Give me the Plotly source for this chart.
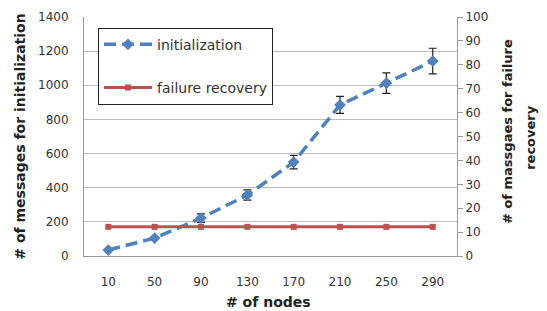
import plotly.graph_objects as go

nodes = ["10", "50", "90", "130", "170", "210", "250", "290"]
init_msgs = [35, 105, 222, 357, 550, 885, 1013, 1142]
init_err = [0, 0, 25, 30, 40, 50, 60, 75]
recovery_msgs = [12.2, 12.2, 12.2, 12.2, 12.2, 12.2, 12.2, 12.2]
left_ticks = [0, 200, 400, 600, 800, 1000, 1200, 1400]
right_ticks = [0, 10, 20, 30, 40, 50, 60, 70, 80, 90, 100]

blue = "#4F81BD"
red = "#C0504D"
font = "DejaVu Sans"

fig = go.Figure()
fig.add_trace(go.Scatter(
    x=nodes, y=init_msgs, name="initialization", mode="lines+markers",
    legendgroup="a",
    line=dict(color=blue, width=3.5, dash="12px,6px"),
    marker=dict(symbol="diamond", size=9, color=blue),
    error_y=dict(type="data", array=init_err, visible=True, color="#222", thickness=1.2, width=4),
))
fig.add_trace(go.Scatter(
    x=nodes, y=recovery_msgs, name="failure recovery", mode="lines+markers",
    legendgroup="b",
    line=dict(color=red, width=3),
    marker=dict(symbol="square", size=6, color=red),
    yaxis="y2",
))

title_font = dict(family=font, size=14, color="#222")

# page body has an 8px margin, so the figure is sized/shifted to compensate
fig.update_layout(
    width=539, height=303,
    margin=dict(l=76, r=90, t=9, b=55),
    paper_bgcolor="white", plot_bgcolor="white",
    font=dict(family=font, size=12, color="#333"),
    showlegend=True,
    legend=dict(x=0.0375, y=0.955, xanchor="left", yanchor="top",
                bordercolor="#222", borderwidth=1, bgcolor="white",
                font=dict(size=14, color="#333"), tracegroupgap=22,
                entrywidth=186, entrywidthmode="pixels", itemwidth=48),
    xaxis=dict(type="category", showgrid=False, showline=True, linecolor="#999",
               ticks="", tickfont=dict(size=12, color="#333"), automargin=False,
               ticklabelstandoff=15),
    yaxis=dict(range=[0, 1400], tickvals=left_ticks, showgrid=True, gridcolor="#bdbdbd",
               showline=True, linecolor="#999", ticks="", zeroline=False, automargin=False,
               ticklabelstandoff=12,
               tickfont=dict(size=12, color="#333"),
               title=dict(text="<b># of messages for initialization</b>", font=title_font, standoff=9)),
    yaxis2=dict(range=[0, 100], tickvals=right_ticks, overlaying="y", side="right",
                showgrid=False, showline=True, linecolor="#999", ticks="outside",
                ticklen=5, tickcolor="#999", zeroline=False, automargin=False,
                tickfont=dict(size=12, color="#333")),
    annotations=[
        dict(text="<b># of nodes</b>", xref="paper", yref="paper", x=0.495, y=-0.1925,
             xanchor="center", yanchor="middle", showarrow=False, font=title_font),
        dict(text="<b># of massgaes for failure</b>", xref="paper", yref="paper", x=1.134, y=0.523,
             xanchor="center", yanchor="middle", textangle=-90, showarrow=False,
             font=dict(family=font, size=13, color="#222")),
        dict(text="<b>recovery</b>", xref="paper", yref="paper", x=1.198, y=0.498,
             xanchor="center", yanchor="middle", textangle=-90, showarrow=False,
             font=dict(family=font, size=13, color="#222")),
    ],
)

fig.write_html("out.html")
